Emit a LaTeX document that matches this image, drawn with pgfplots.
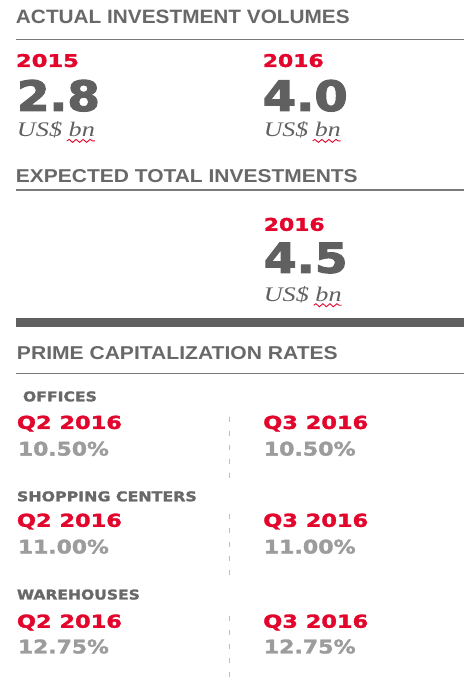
\documentclass[border=0pt]{standalone}
\usepackage{pgfplots}
\pgfplotsset{compat=1.18}
\usepackage{fontspec}
\setmainfont{Liberation Sans}
\newfontfamily\heavy{DejaVu Sans}[BoldFeatures={FakeBold=1.6}]
\newfontfamily\bignum{DejaVu Sans}[BoldFeatures={FakeBold=2.6}]
\newfontfamily\ital{Liberation Serif}
\usetikzlibrary{decorations.pathmorphing}
\definecolor{cred}{HTML}{E2062C}
\definecolor{cgray}{HTML}{606060}
\definecolor{chead}{HTML}{686868}
\definecolor{cpct}{HTML}{9C9C9C}
\definecolor{crule}{HTML}{7A7A7A}
\definecolor{cdash}{HTML}{BDBDBD}
\newcommand\T[6]{\node[anchor=base west,inner sep=0pt,outer sep=0pt,text=#5] at (axis cs:#1,#2) {\resizebox{#3bp}{#4bp}{#6}};}
\newcommand\Sq[2]{\draw[cred,line width=0.9bp,decorate,decoration={snake,amplitude=1.5bp,segment length=7bp}] (axis cs:#1,#2) -- (axis cs:#1+28,#2);}
\begin{document}
\begin{tikzpicture}
\begin{axis}[
  width=468bp,height=684bp,scale only axis,
  xmin=0,xmax=468,ymin=0,ymax=684,y dir=reverse,
  hide axis,clip=false]
\path (axis cs:0,0) rectangle (axis cs:468,684);
% rules
\addplot[crule,line width=1.6bp] coordinates {(16,39.5) (464,39.5)};
\addplot[crule,line width=1.6bp] coordinates {(16,190) (464,190)};
\addplot[cgray,line width=9bp] coordinates {(16,322.8) (464,322.8)};
\addplot[crule,line width=1.6bp] coordinates {(16,374) (464,374)};
% dashed separators
\addplot[cdash,line width=1.2bp,dash pattern=on 5bp off 9bp] coordinates {(230,417) (230,478)};
\addplot[cdash,line width=1.2bp,dash pattern=on 5bp off 9bp] coordinates {(230,514) (230,577)};
\addplot[cdash,line width=1.2bp,dash pattern=on 5bp off 9bp] coordinates {(230,617) (230,684)};
% headings
\T{16}{24}{334}{13.5}{chead}{\bfseries ACTUAL INVESTMENT VOLUMES}
\T{16}{183}{342}{13}{chead}{\bfseries EXPECTED TOTAL INVESTMENTS}
\T{17}{360}{321}{13}{chead}{\bfseries PRIME CAPITALIZATION RATES}
% actual volumes
\T{16}{67}{63}{13}{cred}{\heavy\bfseries 2015}
\T{263}{67}{61}{13}{cred}{\heavy\bfseries 2016}
\T{17}{111}{83}{31}{cgray}{\bignum\bfseries 2.8}
\T{263}{111}{85}{31}{cgray}{\bignum\bfseries 4.0}
\T{17}{137}{78}{15}{cgray}{\ital\itshape US\$ bn}
\T{264}{137}{77}{15}{cgray}{\ital\itshape US\$ bn}
\Sq{67}{141}
\Sq{313}{141}
% expected
\T{264}{231}{61}{13}{cred}{\heavy\bfseries 2016}
\T{264}{273}{84}{30}{cgray}{\bignum\bfseries 4.5}
\T{264}{302}{78}{15}{cgray}{\ital\itshape US\$ bn}
\Sq{314}{305.5}
% prime cap rates
\T{23}{401.7}{74}{10}{chead}{\heavy\bfseries OFFICES}
\T{17}{429.3}{105}{13.3}{cred}{\heavy\bfseries Q2 2016}
\T{263.5}{429.3}{105}{13.3}{cred}{\heavy\bfseries Q3 2016}
\T{18}{456}{91}{14}{cpct}{\heavy\bfseries 10.50\%}
\T{264}{456}{92}{14}{cpct}{\heavy\bfseries 10.50\%}
\T{17}{501.7}{180}{10}{chead}{\heavy\bfseries SHOPPING CENTERS}
\T{17}{527.3}{105}{13.3}{cred}{\heavy\bfseries Q2 2016}
\T{263.5}{527.3}{105}{13.3}{cred}{\heavy\bfseries Q3 2016}
\T{18}{554}{91}{14}{cpct}{\heavy\bfseries 11.00\%}
\T{264}{554}{92}{14}{cpct}{\heavy\bfseries 11.00\%}
\T{17}{600}{123}{10}{chead}{\heavy\bfseries WAREHOUSES}
\T{17}{628.3}{105}{13.3}{cred}{\heavy\bfseries Q2 2016}
\T{263.5}{628.3}{105}{13.3}{cred}{\heavy\bfseries Q3 2016}
\T{18}{654}{91}{14}{cpct}{\heavy\bfseries 12.75\%}
\T{264}{654}{92}{14}{cpct}{\heavy\bfseries 12.75\%}
\end{axis}
\end{tikzpicture}
\end{document}
